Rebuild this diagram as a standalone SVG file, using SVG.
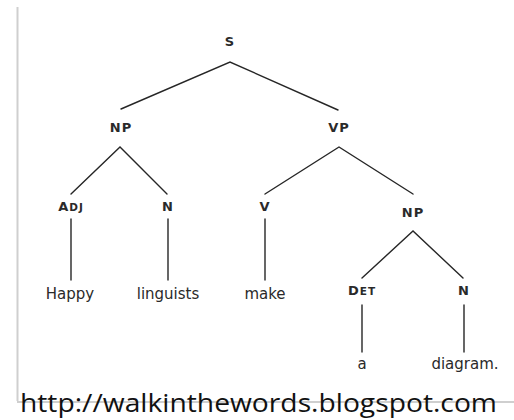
<svg xmlns="http://www.w3.org/2000/svg" width="514" height="420" viewBox="0 0 514 420">
  <style>
    .cat { font-family: "DejaVu Sans", Verdana, sans-serif; font-size: 13px; font-weight: bold; fill: #2a2a2a; text-anchor: middle; letter-spacing: 1px; }
    .sc { font-size: 10.5px; }
    .word { font-family: "DejaVu Sans", Verdana, sans-serif; font-size: 15px; fill: #2a2a2a; text-anchor: middle; }
    .edge { stroke: #262626; stroke-width: 1.4; fill: none; stroke-linecap: round; }
    .frame { stroke: #cfcfcf; stroke-width: 2; fill: none; }
    .url { font-family: "Open Sans", "Liberation Sans", sans-serif; font-size: 25px; fill: #111; }
  </style>

  <!-- page frame -->
  <g id="frame">
    <line class="frame" x1="17.5" y1="7" x2="17.5" y2="401"/>
    <line class="frame" x1="17" y1="402" x2="514" y2="402"/>
  </g>

  <!-- branches of the parse tree -->
  <g id="connectors">
    <polyline class="edge" points="121,109 230,62 338,110"/>
    <polyline class="edge" points="71,194 120,147 167,194"/>
    <polyline class="edge" points="265,194 339,147 413,194"/>
    <line class="edge" x1="71" y1="219" x2="71" y2="280"/>
    <line class="edge" x1="168" y1="219" x2="168" y2="280"/>
    <line class="edge" x1="265" y1="219" x2="265" y2="280"/>
    <polyline class="edge" points="362,278 413,231 463,278"/>
    <line class="edge" x1="362" y1="305" x2="362" y2="352"/>
    <line class="edge" x1="464" y1="305" x2="464" y2="352"/>
  </g>

  <g id="node-s"><text class="cat" x="230" y="46">S</text></g>
  <g id="node-np"><text class="cat" x="121" y="132">NP</text></g>
  <g id="node-vp"><text class="cat" x="339" y="132">VP</text></g>
  <g id="node-adj"><text class="cat" x="71" y="211">A<tspan class="sc">DJ</tspan></text></g>
  <g id="node-n1"><text class="cat" x="168" y="211">N</text></g>
  <g id="node-v"><text class="cat" x="265" y="211">V</text></g>
  <g id="node-np2"><text class="cat" x="413" y="217">NP</text></g>
  <g id="node-det"><text class="cat" x="362" y="295">D<tspan class="sc">ET</tspan></text></g>
  <g id="node-n2"><text class="cat" x="464" y="295">N</text></g>

  <g id="word-happy"><text class="word" x="70" y="299">Happy</text></g>
  <g id="word-linguists"><text class="word" x="168" y="299">linguists</text></g>
  <g id="word-make"><text class="word" x="265" y="299">make</text></g>
  <g id="word-a"><text class="word" x="362" y="369">a</text></g>
  <g id="word-diagram"><text class="word" x="465" y="369">diagram.</text></g>

  <g id="caption">
    <text class="url" x="20" y="412" textLength="477" lengthAdjust="spacingAndGlyphs">http://walkinthewords.blogspot.com</text>
  </g>
</svg>
